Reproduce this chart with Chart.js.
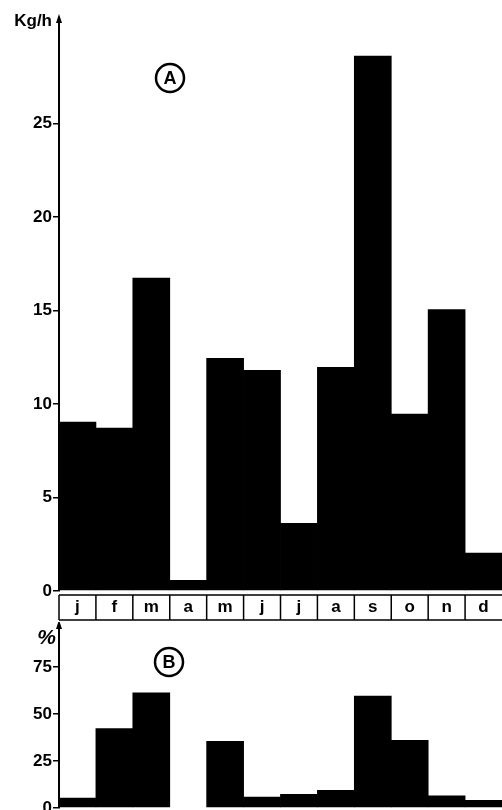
<!DOCTYPE html>
<html>
<head>
<meta charset="utf-8">
<script src="https://cdn.jsdelivr.net/npm/chart.js@4.4.0/dist/chart.umd.min.js"></script>
<style>
  html, body { margin: 0; padding: 0; background: #fff; }
  #cajaA { position: absolute; left: 0; top: 0; width: 502px; height: 625px; }
  #cajaB { position: absolute; left: 0; top: 622px; width: 502px; height: 188px; }
</style>
</head>
<body>
<div id="cajaA"><canvas id="chartA"></canvas></div>
<div id="cajaB"><canvas id="chartB"></canvas></div>
<script>
// Datos
const meses = ['j', 'f', 'm', 'a', 'm', 'j', 'j', 'a', 's', 'o', 'n', 'd'];
const kgPorHora = [9.05, 8.73, 16.76, 0.59, 12.47, 11.83, 3.64, 11.99, 28.64, 9.48, 15.08, 2.05];
const porcentaje = [5.5, 42.4, 61.5, 0, 35.6, 6.0, 7.4, 9.6, 59.7, 36.2, 6.7, 4.3];
const ticksA = [0, 5, 10, 15, 20, 25];
const ticksB = [0, 25, 50, 75];

const FUENTE = '"Liberation Sans", Arial, sans-serif';

Chart.defaults.maintainAspectRatio = false;
Chart.defaults.responsive = true;
Chart.defaults.animation = false;
Chart.defaults.color = '#000';
Chart.defaults.font.family = FUENTE;
Chart.defaults.font.weight = 'bold';

// Flecha del eje, unidad y letra en círculo
function anotaciones(id, unidad, fuenteUnidad, ux, uy, letra, cx, cy) {
  return {
    id: id,
    afterDraw(chart) {
      const { ctx, chartArea } = chart;
      const x = chartArea.left;
      ctx.save();
      ctx.fillStyle = '#000';
      ctx.strokeStyle = '#000';
      ctx.beginPath();
      ctx.moveTo(x, chartArea.top - 7);
      ctx.lineTo(x - 3, chartArea.top + 2);
      ctx.lineTo(x + 3, chartArea.top + 2);
      ctx.closePath();
      ctx.fill();
      // unidad
      ctx.font = fuenteUnidad + ' ' + FUENTE;
      ctx.textAlign = 'right';
      ctx.textBaseline = 'middle';
      ctx.fillText(unidad, ux, uy);
      // letra en círculo
      ctx.lineWidth = 2.5;
      ctx.beginPath();
      ctx.arc(cx, cy, 14, 0, Math.PI * 2);
      ctx.stroke();
      ctx.font = 'bold 18px ' + FUENTE;
      ctx.textAlign = 'center';
      ctx.fillText(letra, cx, cy + 1);
      ctx.restore();
    }
  };
}

// Cajas de los meses bajo el gráfico A
const cajasMeses = {
  id: 'cajasMeses',
  afterDraw(chart) {
    const { ctx, chartArea } = chart;
    const escala = chart.scales.x;
    const medio = (escala.getPixelForValue(1) - escala.getPixelForValue(0)) / 2;
    const arriba = chartArea.bottom + 4;
    const abajo = chartArea.bottom + 29;
    ctx.save();
    ctx.strokeStyle = '#000';
    ctx.lineWidth = 1.5;
    ctx.beginPath();
    ctx.moveTo(chartArea.left, arriba);
    ctx.lineTo(chartArea.right, arriba);
    ctx.moveTo(chartArea.left, abajo);
    ctx.lineTo(chartArea.right, abajo);
    meses.forEach((m, i) => {
      const xb = escala.getPixelForValue(i) - medio;
      ctx.moveTo(xb, arriba);
      ctx.lineTo(xb, abajo);
    });
    ctx.stroke();
    ctx.restore();
  }
};

function ejeY(lista, max) {
  return {
    min: 0,
    max: max,
    afterBuildTicks: scale => { scale.ticks = lista.map(v => ({ value: v })); },
    afterFit: scale => {
      scale.width = 59;
      scale.paddingTop = 0;
      scale.paddingBottom = 0;
    },
    grid: { drawOnChartArea: false, drawTicks: true, tickLength: 6, color: '#000', lineWidth: 1.5 },
    border: { display: true, color: '#000', width: 2 },
    ticks: { padding: 1, font: { size: 17, weight: 'bold' }, color: '#000' }
  };
}

// Gráfico A: Kg/h
new Chart(document.getElementById('chartA'), {
  type: 'bar',
  data: {
    labels: meses,
    datasets: [{
      data: kgPorHora,
      backgroundColor: '#000',
      borderWidth: 0,
      barPercentage: 1.02,
      categoryPercentage: 1
    }]
  },
  options: {
    layout: { autoPadding: false, padding: { top: 21, right: 0, left: 0, bottom: 0 } },
    plugins: { legend: { display: false }, tooltip: { enabled: false } },
    scales: {
      x: {
        afterFit: scale => { scale.height = 34; },
        grid: { display: false, drawTicks: false },
        border: { display: false },
        ticks: { padding: 6, font: { size: 17, weight: 'bold' }, color: '#000', autoSkip: false, maxRotation: 0 }
      },
      y: ejeY(ticksA, 30.5)
    }
  },
  plugins: [cajasMeses, anotaciones('notasA', 'Kg/h', 'bold 17px', 52, 21, 'A', 170, 78)]
});

// Gráfico B: %
new Chart(document.getElementById('chartB'), {
  type: 'bar',
  data: {
    labels: meses,
    datasets: [{
      data: porcentaje,
      backgroundColor: '#000',
      borderWidth: 0,
      barPercentage: 1.02,
      categoryPercentage: 1
    }]
  },
  options: {
    layout: { autoPadding: false, padding: { top: 5, right: 0, left: 0, bottom: 2 } },
    plugins: { legend: { display: false }, tooltip: { enabled: false } },
    scales: {
      x: { display: false },
      y: ejeY(ticksB, 96.3)
    }
  },
  plugins: [anotaciones('notasB', '%', 'italic bold 21px', 56, 16, 'B', 169, 40)]
});
</script>
</body>
</html>
